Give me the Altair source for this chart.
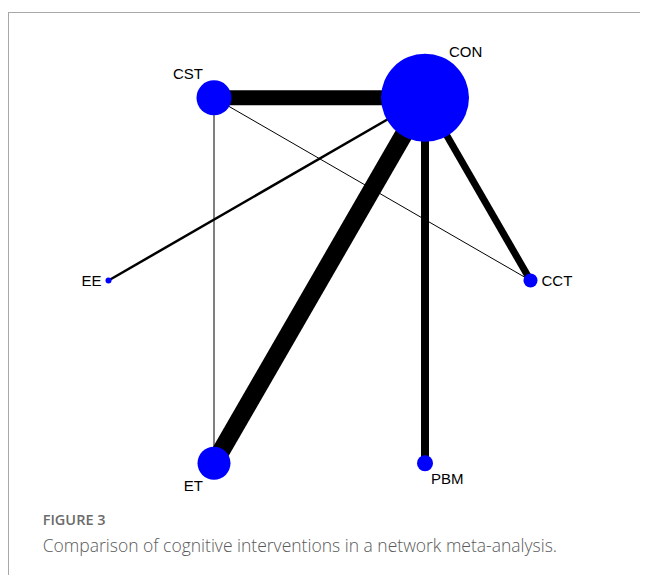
import altair as alt
import pandas as pd
import numpy as np

# Network nodes (circular layout angle in degrees) and node weights (diameter in px)
nodes = ["CON", "CST", "EE", "ET", "PBM", "CCT"]
node_angle = [60, 120, 180, 240, 300, 0]
node_diameter = [88, 35, 6, 33, 16, 14]

# Network edges and their weights (line widths)
edge_from = ["CST", "CON", "CON", "CON", "CON", "CST", "CST"]
edge_to = ["CON", "ET", "PBM", "CCT", "EE", "CCT", "ET"]
edge_width = [15, 18, 8, 7, 2.5, 1, 1]

fig_label = "FIGURE 3"
caption = "Comparison of cognitive interventions in a network meta-analysis."

rad = np.deg2rad(node_angle)
node_df = pd.DataFrame({
    "node": nodes,
    "x": np.cos(rad),
    "y": np.sin(rad),
    "size": np.array(node_diameter, dtype=float) ** 2,
})
pos = node_df.set_index("node")
edge_df = pd.DataFrame({
    "from": edge_from,
    "to": edge_to,
    "x": [pos.loc[n, "x"] for n in edge_from],
    "y": [pos.loc[n, "y"] for n in edge_from],
    "x2": [pos.loc[n, "x"] for n in edge_to],
    "y2": [pos.loc[n, "y"] for n in edge_to],
    "w": edge_width,
})

W, H = 632, 567
xs = alt.Scale(domain=[-1, 1], range=[100.5, 522.5])
ys = alt.Scale(domain=[-1, 1], range=[483.5, 61.5])

frame_color = "#a8a8a8"
frame_left = alt.Chart(node_df).mark_rule(color=frame_color, strokeWidth=1).encode(
    x=alt.value(0.5), y=alt.value(4), y2=alt.value(H)
)
frame_top = alt.Chart(node_df).mark_rule(color=frame_color, strokeWidth=1).encode(
    x=alt.value(0), x2=alt.value(W), y=alt.value(4.5)
)

edges = alt.Chart(edge_df).mark_rule(color="black", strokeCap="butt").encode(
    x=alt.X("x:Q", scale=xs, axis=None),
    y=alt.Y("y:Q", scale=ys, axis=None),
    x2="x2:Q",
    y2="y2:Q",
    strokeWidth=alt.StrokeWidth("w:Q", scale=None, legend=None),
)

points = alt.Chart(node_df).mark_point(
    shape="circle", filled=True, color="#0000ff", opacity=1, strokeWidth=0
).encode(
    x=alt.X("x:Q", scale=xs, axis=None),
    y=alt.Y("y:Q", scale=ys, axis=None),
    size=alt.Size("size:Q", scale=None, legend=None),
)

label_style = {
    "CON": dict(align="left", dx=24, dy=-46),
    "CST": dict(align="right", dx=-11, dy=-24),
    "EE": dict(align="right", dx=-7, dy=0),
    "CCT": dict(align="left", dx=11, dy=0),
    "ET": dict(align="right", dx=-11, dy=23),
    "PBM": dict(align="left", dx=6, dy=16),
}
labels = []
for n in nodes:
    st = label_style[n]
    labels.append(
        alt.Chart(node_df).transform_filter(alt.datum.node == n).mark_text(
            font="Liberation Sans", fontSize=15, color="black", baseline="middle", **st
        ).encode(
            x=alt.X("x:Q", scale=xs, axis=None),
            y=alt.Y("y:Q", scale=ys, axis=None),
            text="node:N",
        )
    )

cap_df = pd.DataFrame({"t": [fig_label], "c": [caption]})
fig_text = alt.Chart(cap_df).mark_text(
    font="Open Sans", fontSize=14.5, fontWeight=600, color="#6b6b6b", align="left", baseline="alphabetic"
).encode(x=alt.value(34.7), y=alt.value(517), text="t:N")
cap_text = alt.Chart(cap_df).mark_text(
    font="Open Sans", fontSize=17.5, fontWeight=300, color="#5a5a5a", align="left", baseline="alphabetic"
).encode(x=alt.value(34.7), y=alt.value(544), text="c:N")

chart = alt.layer(
    frame_left, frame_top, edges, points, *labels, fig_text, cap_text
).properties(
    width=W, height=H, padding=0, autosize=alt.AutoSizeParams(type="none")
).configure_view(stroke=None)

chart.save("out.html", embed_options={"renderer": "svg", "actions": False})
